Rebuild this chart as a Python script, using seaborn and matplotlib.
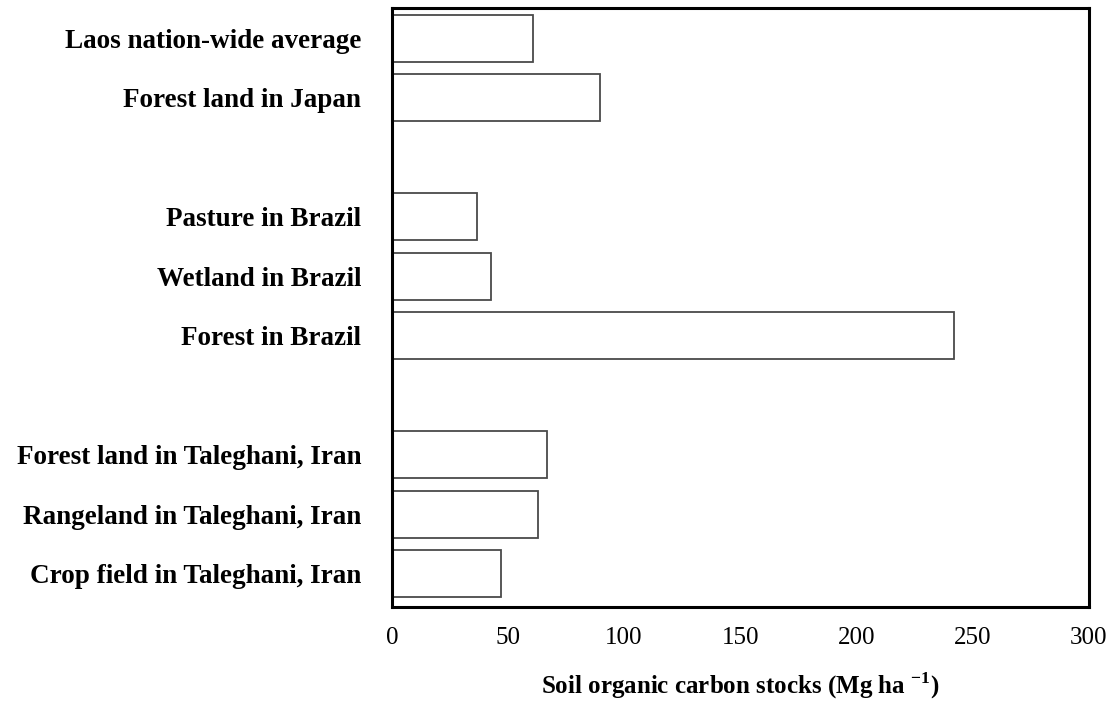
import numpy as np
import seaborn as sns
import pandas as pd
import matplotlib
matplotlib.use("Agg")
import matplotlib.pyplot as plt

# categories top to bottom, blanks are the gaps between groups
order = ["Laos nation-wide average", "Forest land in Japan", " ",
         "Pasture in Brazil", "Wetland in Brazil", "Forest in Brazil", "  ",
         "Forest land in Taleghani, Iran", "Rangeland in Taleghani, Iran",
         "Crop field in Taleghani, Iran"]
sites = ["Laos nation-wide average", "Forest land in Japan",
         "Pasture in Brazil", "Wetland in Brazil", "Forest in Brazil",
         "Forest land in Taleghani, Iran", "Rangeland in Taleghani, Iran",
         "Crop field in Taleghani, Iran"]
soc = [61, 89.5, 36.6, 42.6, 242, 66.7, 63, 47]
xticks = [0, 50, 100, 150, 200, 250, 300]

df = pd.DataFrame({"site": sites, "soc": soc})

sns.set_style("white")
plt.rcParams['font.family'] = ['Liberation Serif', 'DejaVu Serif']
plt.rcParams['text.color'] = 'black'
plt.rcParams['axes.labelcolor'] = 'black'
plt.rcParams['xtick.color'] = 'black'
plt.rcParams['ytick.color'] = 'black'
plt.rcParams['mathtext.fontset'] = 'custom'
plt.rcParams['mathtext.bf'] = 'Liberation Serif:bold'
plt.rcParams['mathtext.rm'] = 'Liberation Serif'

fig = plt.figure(figsize=(11.13, 7.02), dpi=100)
ax = fig.add_axes([0.352, 0.135, 0.626, 0.854])

sns.barplot(data=df, x="soc", y="site", order=order, orient="h",
            color="white", edgecolor="#4a4a4a", linewidth=1.3,
            width=0.79, ax=ax)

ax.set_xlim(0, 300)
ax.set_ylim(9.56, -0.51)
ax.set_xticks(xticks)
ax.set_xticklabels([str(t) for t in xticks], fontsize=18)
ax.set_yticks(range(len(order)))
ax.set_yticklabels(order, fontsize=19.5, fontweight="bold")
ax.tick_params(axis="x", direction="out", length=8, width=2, pad=6)
ax.tick_params(axis="y", length=0, pad=22)
ax.set_ylabel("")
ax.set_xlabel(r"Soil organic carbon stocks (Mg ha $^{\mathbf{-1}}$)",
              fontsize=18, fontweight="bold", labelpad=16)
for s in ax.spines.values():
    s.set_visible(True)
    s.set_color("black")
    s.set_linewidth(2.2)

fig.savefig("out.png", dpi=100)
